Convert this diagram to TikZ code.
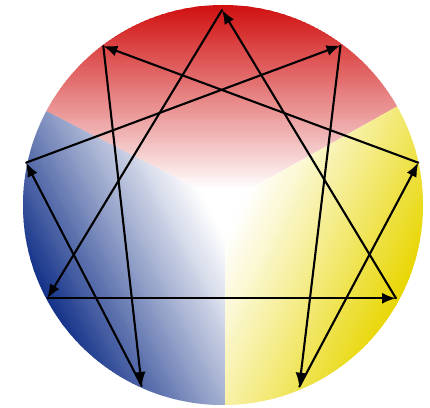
\documentclass[tikz,border=0pt]{standalone}
\usetikzlibrary{arrows.meta}
\definecolor{enred}{RGB}{208,12,12}
\definecolor{enblue}{RGB}{22,52,138}
\definecolor{enyellow}{RGB}{232,214,0}
\tikzset{
  link/.style={line width=2.1pt, line cap=round, -{Latex[length=14pt,width=11pt]}},
}
% #1 colour, #2 start angle, #3 end angle, #4 direction of strongest colour, #5 exponent
\newcommand{\ennsector}[5]{%
  \begin{scope}
    \clip (0,0) -- (#2:300pt) -- ({#2+(#3-#2)/3}:300pt) -- ({#2+2*(#3-#2)/3}:300pt) -- (#3:300pt) -- cycle;
    \begin{scope}[rotate=#4]
      \foreach \i in {0,...,99} {
        \pgfmathtruncatemacro\pp{100*(max(0,((\i+0.5)/100-0.07)/0.93))^#5}
        \fill[#1!\pp!white] ({2*\i},-230) rectangle ({2*\i+2.6},230);
      }
      \fill[#1] (200,-230) rectangle (280,230);
    \end{scope}
  \end{scope}}
\begin{document}
\begin{tikzpicture}[x=1pt,y=1pt]
\useasboundingbox (0,0) rectangle (430,407);
\fill[white] (0,0) rectangle (430,407);
\begin{scope}
  \clip (223,202) circle (200pt);
  \begin{scope}[shift={(225,204)}]
    \ennsector{enred}{29.3}{152.8}{90}{0.95}
    \ennsector{enblue}{152.8}{270}{208}{1.1}
    \ennsector{enyellow}{270}{389.3}{335}{1.1}
  \end{scope}
\end{scope}
\coordinate (n9) at (222,397);
\coordinate (n1) at (340.5,361.5);
\coordinate (n2) at (418.3,244.3);
\coordinate (n3) at (396,108.7);
\coordinate (n4) at (299.3,20.3);
\coordinate (n5) at (141.7,21);
\coordinate (n6) at (47.3,108.7);
\coordinate (n7) at (26,244.3);
\coordinate (n8) at (103.3,361);
\draw[link] (n9) -- (n6);
\draw[link] (n6) -- (n3);
\draw[link] (n3) -- (n9);
\draw[link] (n1) -- (n4);
\draw[link] (n4) -- (n2);
\draw[link] (n2) -- (n8);
\draw[link] (n8) -- (n5);
\draw[link] (n5) -- (n7);
\draw[link] (n7) -- (n1);
\end{tikzpicture}
\end{document}
